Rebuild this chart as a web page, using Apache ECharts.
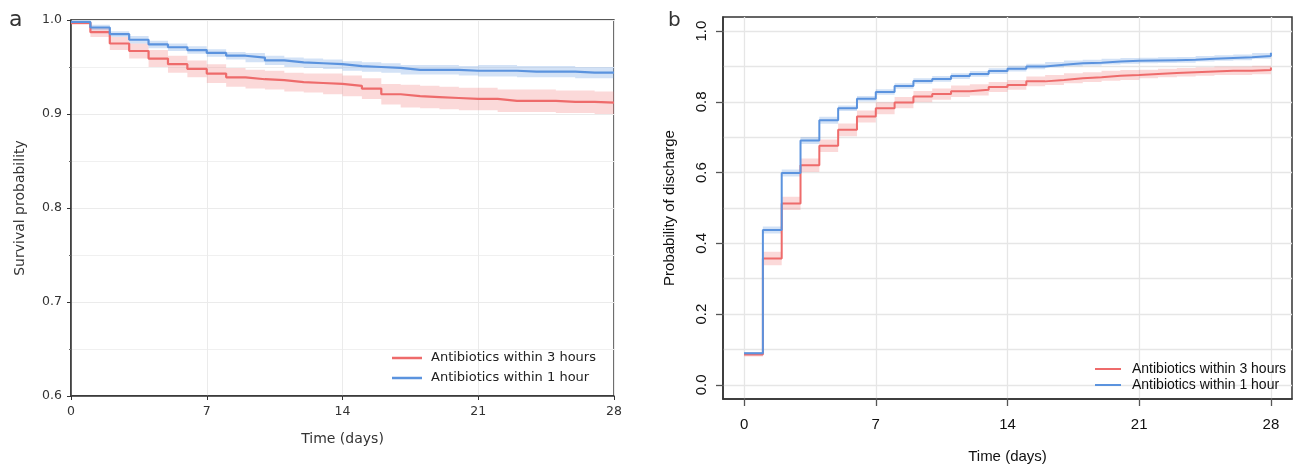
<!DOCTYPE html>
<html><head><meta charset="utf-8">
<script src="https://cdn.jsdelivr.net/npm/echarts@6/dist/echarts.min.js"></script>
<style>html,body{margin:0;padding:0;background:#fff}#c{width:1293px;height:466px}</style>
</head><body><div id="c"></div>
<script>
// ---------- data ----------
const days = [0,1,2,3,4,5,6,7,8,9,10,11,12,13,14,15,16,17,18,19,20,21,22,23,24,25,26,27,28];
const xTickValues = [0,7,14,21,28];
const rightYTickValues = [0,0.2,0.4,0.6,0.8,1.0];
const rightYGridValues = [0,0.1,0.2,0.3,0.4,0.5,0.6,0.7,0.8,0.9,1.0];
const groupNames = ['Antibiotics within 3 hours','Antibiotics within 1 hour'];
const panelLabels = ['a','b'];
const leftXTitle = 'Time (days)', leftYTitle = 'Survival probability';
const rightXTitle = 'Time (days)', rightYTitle = 'Probability of discharge';

// panel a: survival probability
const surv3h   = [0.997,0.987,0.975,0.967,0.959,0.953,0.948,0.943,0.939,0.937,0.936,0.934,0.933,0.932,0.930,0.927,0.921,0.919,0.918,0.917,0.916,0.916,0.914,0.914,0.914,0.913,0.913,0.912,0.912];
const surv3hLo = [0.995,0.982,0.968,0.959,0.950,0.944,0.939,0.933,0.929,0.927,0.926,0.924,0.923,0.921,0.919,0.916,0.910,0.907,0.906,0.905,0.904,0.904,0.902,0.902,0.902,0.901,0.901,0.900,0.900];
const surv3hHi = [0.999,0.992,0.982,0.975,0.968,0.962,0.957,0.953,0.949,0.947,0.946,0.944,0.943,0.943,0.941,0.938,0.932,0.931,0.930,0.929,0.928,0.928,0.926,0.926,0.926,0.925,0.925,0.924,0.924];
const surv1h   = [0.998,0.992,0.985,0.979,0.974,0.971,0.968,0.965,0.962,0.960,0.957,0.955,0.954,0.953,0.951,0.950,0.949,0.947,0.947,0.947,0.946,0.946,0.946,0.945,0.945,0.945,0.944,0.944,0.944];
const surv1hLo = [0.997,0.989,0.982,0.975,0.970,0.967,0.964,0.961,0.958,0.955,0.952,0.950,0.949,0.948,0.946,0.945,0.944,0.942,0.942,0.942,0.941,0.940,0.940,0.939,0.939,0.939,0.938,0.938,0.938];
const surv1hHi = [0.999,0.995,0.988,0.983,0.978,0.975,0.972,0.969,0.966,0.965,0.962,0.960,0.959,0.958,0.956,0.955,0.954,0.952,0.952,0.952,0.951,0.952,0.952,0.951,0.951,0.951,0.950,0.950,0.950];

// panel b: probability of discharge
const disch3h   = [0.086,0.357,0.513,0.621,0.676,0.721,0.759,0.782,0.798,0.815,0.822,0.830,0.834,0.842,0.848,0.858,0.862,0.867,0.870,0.874,0.876,0.879,0.882,0.884,0.886,0.888,0.888,0.890,0.897];
const disch3hLo = [0.080,0.338,0.494,0.602,0.658,0.703,0.742,0.765,0.782,0.799,0.806,0.814,0.818,0.828,0.834,0.844,0.848,0.853,0.856,0.860,0.862,0.867,0.870,0.872,0.874,0.876,0.876,0.878,0.885];
const disch3hHi = [0.092,0.376,0.532,0.640,0.694,0.739,0.776,0.799,0.814,0.831,0.838,0.846,0.850,0.856,0.862,0.872,0.876,0.881,0.884,0.888,0.890,0.891,0.894,0.896,0.898,0.900,0.900,0.902,0.909];
const disch1h   = [0.089,0.438,0.599,0.691,0.748,0.782,0.809,0.828,0.845,0.859,0.865,0.873,0.879,0.887,0.894,0.900,0.905,0.909,0.911,0.914,0.916,0.917,0.918,0.919,0.922,0.924,0.926,0.930,0.939];
const disch1hLo = [0.085,0.428,0.589,0.681,0.738,0.774,0.801,0.820,0.837,0.851,0.857,0.865,0.871,0.879,0.886,0.892,0.897,0.901,0.903,0.906,0.908,0.909,0.910,0.911,0.914,0.916,0.918,0.922,0.931];
const disch1hHi = [0.093,0.448,0.609,0.701,0.758,0.790,0.817,0.836,0.853,0.867,0.873,0.881,0.887,0.895,0.902,0.908,0.913,0.917,0.919,0.922,0.924,0.925,0.926,0.927,0.930,0.932,0.934,0.938,0.947];

// ---------- styles ----------
const RED = '#EE6B6B', BLUE = '#5B93DE';
const RED_BAND = 'rgba(238,107,107,0.26)', BLUE_BAND = 'rgba(91,147,222,0.27)';
const FONT_A = 'DejaVu Sans', FONT_B = 'Liberation Sans';

function pts(vals){ return days.map((d,i)=>[d, vals[i]]); }
// step-shaped confidence band drawn as one polygon through the axes' scales
function bandSeries(lo, hi, color, xi, yi){
  return {
    type:'custom', xAxisIndex:xi, yAxisIndex:yi, silent:true, clip:true, z:1,
    data: days.map((d,i)=>[d, lo[i], hi[i]]),
    encode:{x:0, y:[1,2]},
    renderItem:function(params, api){
      if (params.dataIndex !== 0) return null;
      const up = [], down = [];
      for (let i = 0; i < days.length - 1; i++) {
        up.push(api.coord([days[i], hi[i]]));
        up.push(api.coord([days[i+1], hi[i]]));
        down.push(api.coord([days[i], lo[i]]));
        down.push(api.coord([days[i+1], lo[i]]));
      }
      const poly = up.concat(down.reverse());
      return {type:'polygon', shape:{points:poly}, style:{fill:color, stroke:null}};
    }
  };
}
function mainSeries(name, vals, color, xi, yi, w){
  return {type:'line', name:name, xAxisIndex:xi, yAxisIndex:yi, step:'end', symbol:'none', showSymbol:false,
    lineStyle:{color:color, width:w}, itemStyle:{color:color}, data:pts(vals), z:3};
}

const series = [
  bandSeries(surv3hLo, surv3hHi, RED_BAND, 0, 0),
  bandSeries(surv1hLo, surv1hHi, BLUE_BAND, 0, 0),
  mainSeries(groupNames[0], surv3h, RED, 0, 0, 2.2),
  mainSeries(groupNames[1], surv1h, BLUE, 0, 0, 2.2),
  bandSeries(disch3hLo, disch3hHi, RED_BAND, 1, 1),
  bandSeries(disch1hLo, disch1hHi, BLUE_BAND, 1, 1),
  mainSeries(groupNames[0], disch3h, RED, 1, 1, 2),
  mainSeries(groupNames[1], disch1h, BLUE, 1, 1, 2)
];

const option = {
  animation:false,
  backgroundColor:'#fff',
  grid:[
    {left:71, top:20, width:543, height:376, show:true, borderColor:'#222', borderWidth:1.3, backgroundColor:'transparent', outerBoundsMode:'none', containLabel:false},
    {left:723, top:17, width:569, height:382, show:true, borderColor:'#333', borderWidth:1.5, backgroundColor:'transparent', outerBoundsMode:'none', containLabel:false}
  ],
  xAxis:[
    {gridIndex:0, type:'value', min:0, max:28, interval:7,
     axisLine:{show:true, onZero:false, lineStyle:{color:'#333', width:1.5}},
     axisTick:{show:true, length:4, lineStyle:{color:'#333'}},
     axisLabel:{margin:9, fontFamily:FONT_A, fontSize:12.5, color:'#333'},
     splitLine:{show:true, lineStyle:{color:'#ebebeb', width:1}},
     name:leftXTitle, nameLocation:'middle', nameGap:36,
     nameTextStyle:{fontFamily:FONT_A, fontSize:14, color:'#333'}},
    {gridIndex:1, type:'value', min:-1.12, max:29.12,
     axisLine:{show:true, onZero:false, lineStyle:{color:'#333', width:1.5}},
     axisTick:{show:true, length:7, customValues:xTickValues, lineStyle:{color:'#555', width:1.3}},
     axisLabel:{customValues:xTickValues, margin:18, fontFamily:FONT_B, fontSize:15, color:'#111'},
     splitLine:{show:true, lineStyle:{color:'#e6e6e6', width:1.3}},
     name:rightXTitle, nameLocation:'middle', nameGap:50,
     nameTextStyle:{fontFamily:FONT_B, fontSize:15, color:'#111'}}
  ],
  yAxis:[
    {gridIndex:0, type:'value', min:0.6, max:1.0, interval:0.1,
     axisLine:{show:true, onZero:false, lineStyle:{color:'#333', width:1.5}},
     axisTick:{show:true, length:4, lineStyle:{color:'#333'}},
     minorTick:{show:true, splitNumber:2, length:2, lineStyle:{color:'#666'}},
     axisLabel:{margin:9, fontFamily:FONT_A, fontSize:12.5, color:'#333', formatter:v=>v.toFixed(1)},
     splitLine:{show:true, lineStyle:{color:'#ebebeb', width:1}},
     minorSplitLine:{show:true, lineStyle:{color:'#f0f0f0', width:1}},
     name:leftYTitle, nameLocation:'middle', nameGap:44,
     nameTextStyle:{fontFamily:FONT_A, fontSize:14, color:'#333'}},
    {gridIndex:1, type:'value', min:-0.04, max:1.04, position:'left',
     axisLine:{show:true, onZero:false, lineStyle:{color:'#333', width:1.5}},
     axisTick:{show:true, length:7, customValues:rightYTickValues, lineStyle:{color:'#555', width:1.3}},
     axisLabel:{customValues:rightYTickValues, rotate:90, margin:14, fontFamily:FONT_B, fontSize:15, color:'#111', formatter:v=>v.toFixed(1)},
     splitLine:{show:false},
     name:rightYTitle, nameLocation:'middle', nameGap:46,
     nameTextStyle:{fontFamily:FONT_B, fontSize:15, color:'#111'}},
    {gridIndex:1, type:'value', min:-0.04, max:1.04, position:'left', z:0,
     axisLine:{show:false, onZero:false}, axisLabel:{show:false},
     axisTick:{show:false, customValues:rightYGridValues},
     splitLine:{show:true, lineStyle:{color:'#e6e6e6', width:1.3}}}
  ],
  legend:[
    {orient:'vertical', left:392, top:351.5, padding:0, icon:'rect', itemWidth:30, itemHeight:2.5, itemGap:7,
     data:groupNames, selectedMode:false,
     textStyle:{fontFamily:FONT_A, fontSize:13, color:'#222', padding:[0,0,0,4]}},
    {orient:'vertical', left:1095, top:362, padding:0, icon:'rect', itemWidth:26, itemHeight:2, itemGap:2,
     data:groupNames, selectedMode:false,
     textStyle:{fontFamily:FONT_B, fontSize:14, color:'#111', padding:[0,0,0,6]}}
  ],
  graphic:[
    {type:'text', x:9, y:20, style:{text:panelLabels[0], fontFamily:FONT_A, fontSize:22, fill:'#333', align:'left', verticalAlign:'middle'}},
    {type:'text', x:668, y:21, style:{text:panelLabels[1], fontFamily:FONT_A, fontSize:20, fill:'#333', align:'left', verticalAlign:'middle'}}
  ],
  series:series
};
const chart = echarts.init(document.getElementById('c'), null, {renderer:'canvas'});
chart.setOption(option);
</script></body></html>
